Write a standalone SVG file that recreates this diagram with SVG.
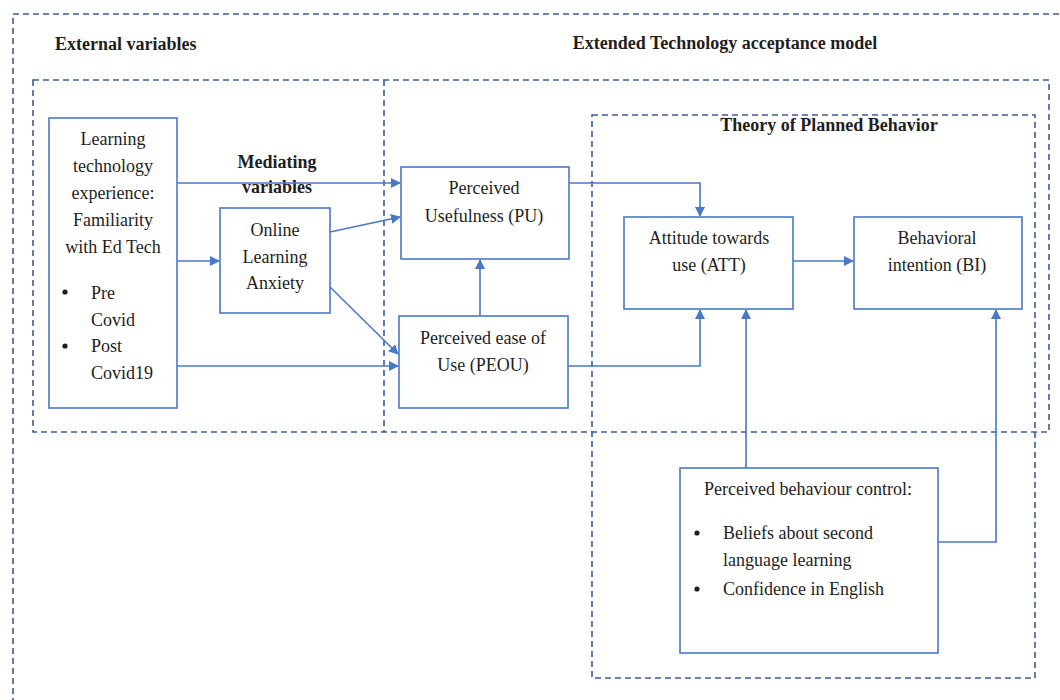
<svg xmlns="http://www.w3.org/2000/svg" width="1060" height="700" viewBox="0 0 1060 700">
  <style>
    .frame { fill: none; stroke: #3E5C99; stroke-width: 1.6; stroke-dasharray: 6 4; }
    .box { fill: #ffffff; stroke: #4A78C8; stroke-width: 1.6; }
    .link { fill: none; stroke: #4A78C8; stroke-width: 1.6; }
    text { font-family: "Liberation Serif", "Times New Roman", serif; font-size: 18px; fill: #1e1e1e; }
    .title { font-weight: bold; font-size: 18px; }
    .mid { text-anchor: middle; }
  </style>
  <defs>
    <marker id="arrow" viewBox="0 0 10 10" refX="9" refY="5" markerWidth="10" markerHeight="10" markerUnits="userSpaceOnUse" orient="auto">
      <path d="M0,0 L10,5 L0,10 z" fill="#4A78C8"/>
    </marker>
  </defs>

  <rect width="1060" height="700" fill="#ffffff"/>

  <!-- grouping frames -->
  <g id="frames">
    <rect class="frame" x="13" y="14" width="1070" height="710"/>
    <rect class="frame" x="33" y="80" width="1016" height="352"/>
    <line class="frame" x1="384" y1="80" x2="384" y2="432" stroke-dasharray="30 3"/>
    <rect class="frame" x="592" y="115" width="443" height="563"/>
  </g>

  <!-- section titles -->
  <g id="titles">
    <text class="title" x="55" y="50">External variables</text>
    <text class="title mid" x="725" y="49">Extended Technology acceptance model</text>
    <text class="title mid" x="277" y="168">Mediating</text>
    <text class="title mid" x="277" y="193">variables</text>
    <text class="title mid" x="829" y="131">Theory of Planned Behavior</text>
  </g>

  <!-- connectors -->
  <g id="connectors">
    <line class="link" x1="177" y1="183" x2="400" y2="183" marker-end="url(#arrow)"/>
    <line class="link" x1="177" y1="261" x2="219" y2="261" marker-end="url(#arrow)"/>
    <line class="link" x1="177" y1="366" x2="398" y2="366" marker-end="url(#arrow)"/>
    <line class="link" x1="330" y1="232" x2="400" y2="217" marker-end="url(#arrow)"/>
    <line class="link" x1="330" y1="287" x2="398" y2="354" marker-end="url(#arrow)"/>
    <line class="link" x1="480" y1="316" x2="480" y2="260" marker-end="url(#arrow)"/>
    <polyline class="link" points="569,183 700,183 700,216" marker-end="url(#arrow)"/>
    <polyline class="link" points="568,366 700,366 700,310" marker-end="url(#arrow)"/>
    <line class="link" x1="790" y1="261" x2="853" y2="261" marker-end="url(#arrow)"/>
    <line class="link" x1="746" y1="468" x2="746" y2="310" marker-end="url(#arrow)"/>
    <polyline class="link" points="938,542 996,542 996,310" marker-end="url(#arrow)"/>
  </g>

  <!-- Learning technology experience -->
  <g id="learning-tech">
    <rect class="box" x="49" y="118" width="128" height="290"/>
    <text class="mid" x="113" y="145">Learning</text>
    <text class="mid" x="113" y="172">technology</text>
    <text class="mid" x="113" y="199">experience:</text>
    <text class="mid" x="113" y="226">Familiarity</text>
    <text class="mid" x="113" y="253">with Ed Tech</text>
    <circle cx="65" cy="292" r="2.6" fill="#1e1e1e"/>
    <text x="91" y="299">Pre</text>
    <text x="91" y="326">Covid</text>
    <circle cx="65" cy="346" r="2.6" fill="#1e1e1e"/>
    <text x="91" y="352">Post</text>
    <text x="91" y="379">Covid19</text>
  </g>

  <!-- Online Learning Anxiety -->
  <g id="anxiety">
    <rect class="box" x="220" y="208" width="110" height="105"/>
    <text class="mid" x="275" y="236">Online</text>
    <text class="mid" x="275" y="263">Learning</text>
    <text class="mid" x="275" y="289">Anxiety</text>
  </g>

  <!-- Perceived Usefulness -->
  <g id="pu">
    <rect class="box" x="401" y="167" width="168" height="92"/>
    <text class="mid" x="484" y="194">Perceived</text>
    <text class="mid" x="484" y="222">Usefulness (PU)</text>
  </g>

  <!-- Perceived ease of use -->
  <g id="peou">
    <rect class="box" x="399" y="316" width="169" height="92"/>
    <text class="mid" x="483" y="344">Perceived ease of</text>
    <text class="mid" x="483" y="371">Use (PEOU)</text>
  </g>

  <!-- Attitude towards use -->
  <g id="att">
    <rect class="box" x="624" y="217" width="169" height="92"/>
    <text class="mid" x="709" y="244">Attitude towards</text>
    <text class="mid" x="709" y="271">use (ATT)</text>
  </g>

  <!-- Behavioral intention -->
  <g id="bi">
    <rect class="box" x="854" y="217" width="168" height="92"/>
    <text class="mid" x="937" y="244">Behavioral</text>
    <text class="mid" x="937" y="271">intention (BI)</text>
  </g>

  <!-- Perceived behaviour control -->
  <g id="pbc">
    <rect class="box" x="680" y="468" width="258" height="185"/>
    <text class="mid" x="808" y="495">Perceived behaviour control:</text>
    <circle cx="697" cy="533" r="2.6" fill="#1e1e1e"/>
    <text x="723" y="539">Beliefs about second</text>
    <text x="723" y="566">language learning</text>
    <circle cx="697" cy="589" r="2.6" fill="#1e1e1e"/>
    <text x="723" y="595">Confidence in English</text>
  </g>
</svg>
